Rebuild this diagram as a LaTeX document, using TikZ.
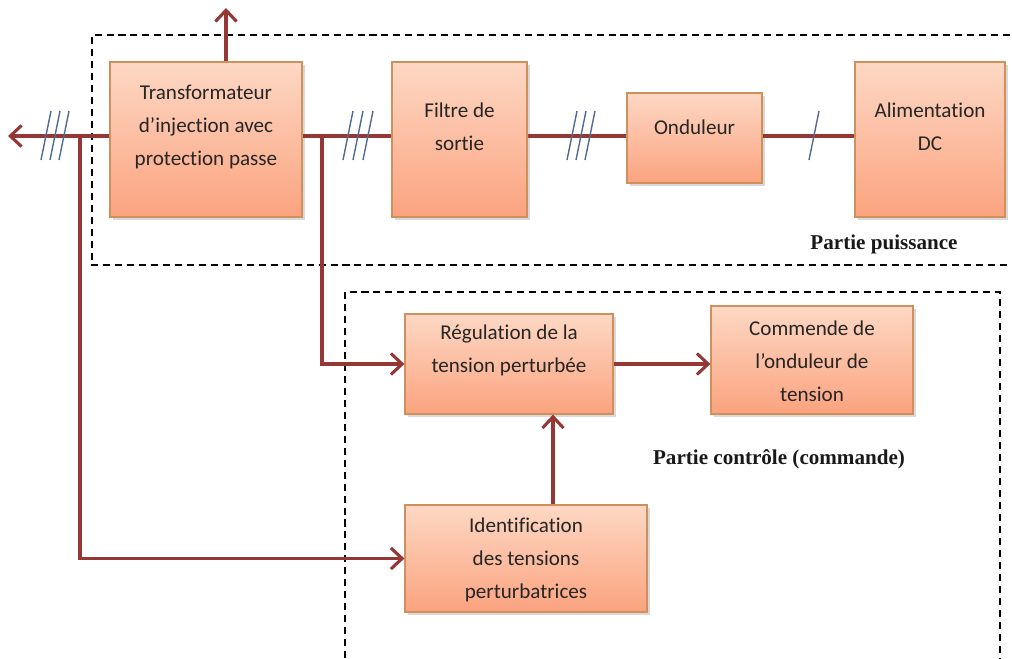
\documentclass[tikz,border=0pt]{standalone}
\usepackage{fontspec}
\setmainfont{Carlito}[Ligatures=NoCommon]
\newfontfamily\partfont{Liberation Serif}
\usepackage{tikz}
\usetikzlibrary{arrows.meta, shadows}

\definecolor{boxtop}{HTML}{FDD8C4}
\definecolor{boxbot}{HTML}{FBA37F}
\definecolor{boxline}{HTML}{D0905C}
\definecolor{wirecol}{HTML}{953735}
\definecolor{tickcol}{HTML}{4E6C90}

\begin{document}
\begin{tikzpicture}[
            x=0.025cm, y=-0.025cm, % one unit = one pixel of the sketch
            blk/.style={draw=boxline, line width=0.8pt, top color=boxtop, bottom color=boxbot,
                        drop shadow={shadow xshift=2pt, shadow yshift=-2pt, opacity=0.3}}, % orange block
            txt/.style={align=center, text=black!85, font=\fontsize{15}{23.5}\selectfont}, % block text
            wire/.style={draw=wirecol, line width=2.2pt}, % red connector
            arr/.style={wire, -{Straight Barb[length=8pt, width=15pt]}}, % red connector with arrow
            tick/.style={draw=tickcol, line width=1pt}, % phase marks
            zone/.style={draw=black, line width=1.4pt, dash pattern=on 5pt off 3.5pt}, % dashed parts
            lbl/.style={font=\partfont\bfseries\fontsize{15}{18}\selectfont, text=black!90}
            ]

        \useasboundingbox (0,0) rectangle (1012,658);

        % dashed zones
        \draw[zone] (1010,35) -- (92,35) -- (92,265) -- (1010,265);
        \draw[zone] (345,658) -- (345,292) -- (1000,292) -- (1000,658);
        \node[lbl] (pp) at (884,244) {Partie puissance};
        \node[lbl] (pc) at (779,459) {Partie contrôle (commande)};

        % power part
        \node[blk, minimum width=4.8cm, minimum height=3.875cm] (tr) at (206,139.5) {};
        \node[txt] (trT) at (206,127) {Transformateur\\d’injection avec\\protection passe};
        \node[blk, minimum width=3.375cm, minimum height=3.875cm] (fil) at (459.5,139.5) {};
        \node[txt] (filT) at (459.5,127) {Filtre de\\sortie};
        \node[blk, minimum width=3.375cm, minimum height=2.25cm] (ond) at (694.5,138) {};
        \node[txt] (ondT) at (694.5,127) {Onduleur};
        \node[blk, minimum width=3.75cm, minimum height=3.875cm] (alim) at (930,139.5) {};
        \node[txt] (alimT) at (930,127) {Alimentation\\DC};

        % control part
        \node[blk, minimum width=5.2cm, minimum height=2.5cm] (reg) at (509,364) {};
        \node[txt] (regT) at (509,350) {Régulation de la\\tension perturbée};
        \node[blk, minimum width=5.05cm, minimum height=2.7cm] (cmd) at (812,360) {};
        \node[txt] (cmdT) at (812,361) {Commende de\\l’onduleur de\\tension};
        \node[blk, minimum width=6.05cm, minimum height=2.675cm] (idf) at (526,558.5) {};
        \node[txt] (idfT) at (526,560) {Identification\\des tensions\\perturbatrices};

        % free ends and branch points
        \coordinate (bus) at (0,136);
        \coordinate (out) at (8,136);
        \coordinate (up) at (226,8);
        \coordinate (j1) at (322,136);
        \coordinate (j2) at (80,136);
        \coordinate (fb) at (553,0);

        % connectors
        \draw[arr] (tr.west |- bus) -- (out);
        \draw[arr] (tr.north -| up) -- (up);
        \draw[wire] (tr.east |- bus) -- (fil.west |- bus);
        \draw[wire] (fil.east |- bus) -- (ond.west |- bus);
        \draw[wire] (ond.east |- bus) -- (alim.west |- bus);
        \draw[arr] (j1) |- (reg.west);
        \draw[arr] (j2) |- (idf.west);
        \draw[arr] (reg.east) -- (reg.east -| cmd.west);
        \draw[arr] (idf.north -| fb) -- (reg.south -| fb);

        % phase marks
        \foreach \c in {46,55,64,348,358,368,572,581,590,814}
            \draw[tick] (\c-5,160) -- (\c+5,111);

\end{tikzpicture}
\end{document}
